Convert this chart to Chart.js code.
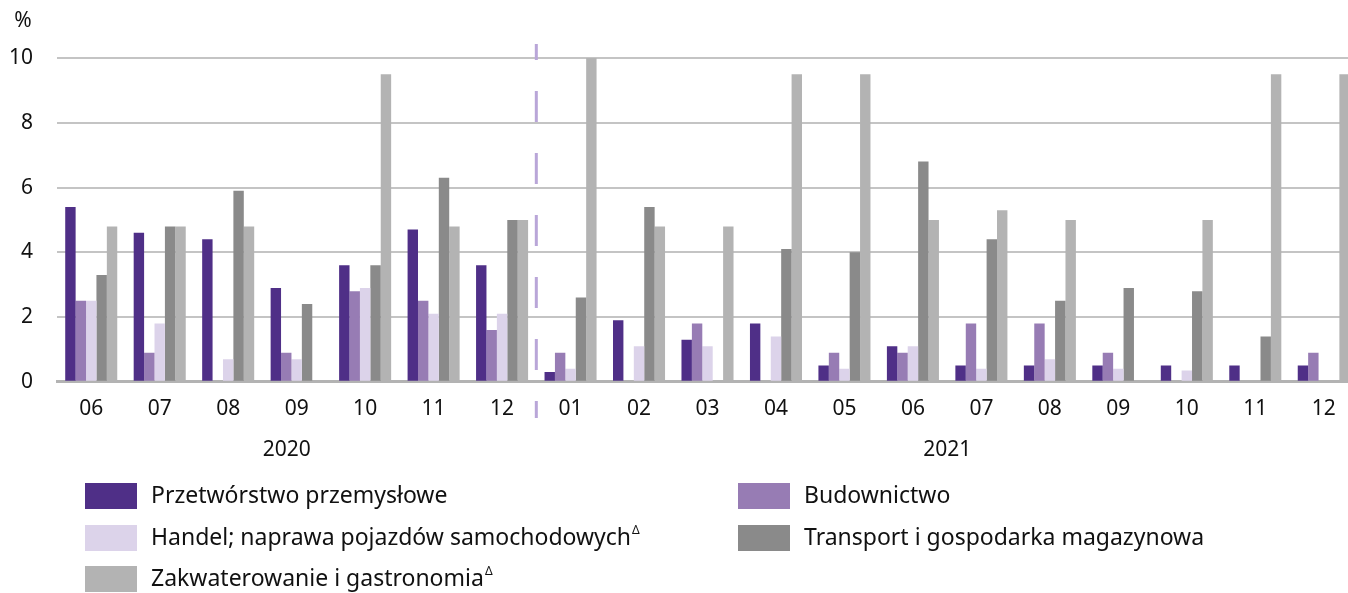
<!DOCTYPE html>
<html>
<head>
<meta charset="utf-8">
<script src="https://cdn.jsdelivr.net/npm/chart.js@4"></script>
<style>
  body { margin: 0; background: #fff; overflow: hidden; }
  #wrap { position: relative; width: 1358px; height: 593px; }
</style>
</head>
<body>
<div id="wrap"><canvas id="chart"></canvas></div>
<script>
const months = ['06','07','08','09','10','11','12','01','02','03','04','05','06','07','08','09','10','11','12'];
const years = ['2020', '2021'];

const przetworstwo = [5.4, 4.6, 4.4, 2.9, 3.6, 4.7, 3.6, 0.3, 1.9, 1.3, 1.8, 0.5, 1.1, 0.5, 0.5, 0.5, 0.5, 0.5, 0.5];
const budownictwo  = [2.5, 0.9, null, 0.9, 2.8, 2.5, 1.6, 0.9, null, 1.8, null, 0.9, 0.9, 1.8, 1.8, 0.9, null, null, 0.9];
const handel       = [2.5, 1.8, 0.7, 0.7, 2.9, 2.1, 2.1, 0.4, 1.1, 1.1, 1.4, 0.4, 1.1, 0.4, 0.7, 0.4, 0.35, null, null];
const transport    = [3.3, 4.8, 5.9, 2.4, 3.6, 6.3, 5.0, 2.6, 5.4, null, 4.1, 4.0, 6.8, 4.4, 2.5, 2.9, 2.8, 1.4, null];
const zakwater     = [4.8, 4.8, 4.8, null, 9.5, 4.8, 5.0, 10.0, 4.8, 4.8, 9.5, 9.5, 5.0, 5.3, 5.0, null, 5.0, 9.5, 9.5];

const FONT = '"Noto Sans", Roboto, sans-serif';
const TEXT = '#111111';

// legend: [label, colour, superscript, column, row]
const legendItems = [
    ['Przetwórstwo przemysłowe', '#4f2f87', false, 0, 0],
    ['Budownictwo', '#977cb4', false, 1, 0],
    ['Handel; naprawa pojazdów samochodowych', '#dcd3ea', true, 0, 1],
    ['Transport i gospodarka magazynowa', '#8a8a8a', false, 1, 1],
    ['Zakwaterowanie i gastronomia', '#b3b3b3', true, 0, 2]
];

// extra drawing: %, divider, years, legend
const extras = {
    id: 'extras',
    afterDatasetsDraw(chart) {
        const ctx = chart.ctx;
        const x = chart.scales.x;
        ctx.save();

        ctx.fillStyle = TEXT;
        ctx.font = '21px ' + FONT;
        ctx.textAlign = 'center';
        ctx.textBaseline = 'middle';
        ctx.fillText('%', 23, 21);

        // dashed divider between 2020 and 2021
        const divX = (x.getPixelForValue(6) + x.getPixelForValue(7)) / 2;
        ctx.strokeStyle = '#b9a6d8';
        ctx.lineWidth = 3;
        ctx.setLineDash([31, 31]);
        ctx.lineDashOffset = 15;
        ctx.beginPath();
        ctx.moveTo(divX, 44);
        ctx.lineTo(divX, 418);
        ctx.stroke();
        ctx.setLineDash([]);

        // year labels
        ctx.fillStyle = TEXT;
        ctx.fillText(years[0], x.getPixelForValue(3) - 10, 450);
        ctx.fillText(years[1], (x.getPixelForValue(7) + x.getPixelForValue(18)) / 2, 450);

        // legend
        const colX = [85, 738];
        const rowY = [496, 538, 579];
        ctx.textAlign = 'left';
        legendItems.forEach(([label, color, sup, col, row]) => {
            const lx = colX[col], ly = rowY[row];
            ctx.fillStyle = color;
            ctx.fillRect(lx, ly - 13, 52, 26);
            ctx.fillStyle = TEXT;
            ctx.font = '23px ' + FONT;
            ctx.fillText(label, lx + 66, ly);
            if (sup) {
                const w = ctx.measureText(label).width;
                ctx.font = '12px ' + FONT;
                ctx.fillText('Δ', lx + 67 + w, ly - 7);
            }
        });
        ctx.restore();
    }
};

const ds = (label, data, color) => ({ label, data, backgroundColor: color, borderWidth: 0 });

new Chart(document.getElementById('chart'), {
    type: 'bar',
    data: {
        labels: months,
        datasets: [
            ds('Przetwórstwo przemysłowe', przetworstwo, '#4f2f87'),
            ds('Budownictwo', budownictwo, '#977cb4'),
            ds('Handel; naprawa pojazdów samochodowych', handel, '#dcd3ea'),
            ds('Transport i gospodarka magazynowa', transport, '#8a8a8a'),
            ds('Zakwaterowanie i gastronomia', zakwater, '#b3b3b3')
        ]
    },
    options: {
        responsive: true,
        maintainAspectRatio: false,
        animation: false,
        categoryPercentage: 0.76,
        barPercentage: 1.0,
        layout: { padding: { top: 58, right: 0, left: 0, bottom: 156 } },
        plugins: { legend: { display: false }, tooltip: { enabled: false } },
        scales: {
            x: {
                grid: { display: false, drawTicks: false },
                border: { color: '#b3b3b3', width: 3 },
                ticks: { color: TEXT, font: { family: FONT, size: 21 }, padding: 15, maxRotation: 0, autoSkip: false }
            },
            y: {
                min: 0,
                max: 10,
                afterFit(s) { s.width = 57; },
                grid: { color: '#c4c4c4', lineWidth: 2, drawTicks: false },
                border: { display: false },
                ticks: { stepSize: 2, color: TEXT, font: { family: FONT, size: 21 }, padding: 24 }
            }
        }
    },
    plugins: [extras]
});
</script>
</body>
</html>
